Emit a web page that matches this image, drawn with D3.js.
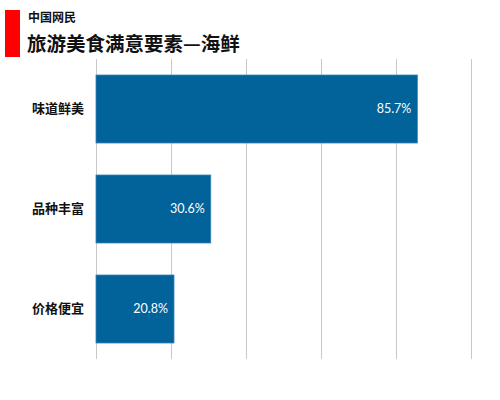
<!DOCTYPE html>
<html>
<head>
<meta charset="utf-8">
<script src="https://cdn.jsdelivr.net/npm/d3@7"></script>
<style>
  body { margin: 0; background: #fff; }
</style>
</head>
<body>
<svg id="chart"></svg>
<script>
// data
var categories = ["味道鲜美", "品种丰富", "价格便宜"]
var values = [85.7, 30.6, 20.8]
var gridTicks = [0, 20, 40, 60, 80, 100]

var screen = { width: 500, height: 400 }
var margin = { left: 96, right: 29, top: 59, bottom: 41 }

var svg = d3.select("#chart")
  .attr("width", screen.width)
  .attr("height", screen.height)

// header: red block + two titles
svg.append("rect")
  .attr("x", 5).attr("y", 10)
  .attr("width", 15).attr("height", 47)
  .attr("fill", "#ff0000")

svg.append("text")
  .attr("x", 28).attr("y", 22)
  .attr("font-family", "Noto Sans CJK SC")
  .attr("font-weight", "bold")
  .attr("font-size", "12px")
  .attr("fill", "#111")
  .text("中国网民")

svg.append("text")
  .attr("x", 27).attr("y", 51)
  .attr("font-family", "Noto Sans CJK SC")
  .attr("font-weight", "bold")
  .attr("font-size", "19.5px")
  .attr("fill", "#111")
  .text("旅游美食满意要素—海鲜")

var xScale = d3.scaleLinear()
  .domain([0, 100])
  .range([margin.left, screen.width - margin.right])

var yScale = d3.scaleBand()
  .domain(categories)
  .range([margin.top, screen.height - margin.bottom])
  .paddingInner(0.32)
  .paddingOuter(0.16)

// vertical gridlines
svg.selectAll("line.grid")
  .data(gridTicks)
  .enter()
  .append("line")
  .attr("class", "grid")
  .attr("x1", function(d){ return Math.round(xScale(d)) + 0.5 })
  .attr("x2", function(d){ return Math.round(xScale(d)) + 0.5 })
  .attr("y1", margin.top)
  .attr("y2", screen.height - margin.bottom)
  .attr("stroke", "#c8c8c8")
  .attr("stroke-width", 1)

var rows = categories.map(function(c, i){ return { cat: c, val: values[i] } })

svg.selectAll("rect.bar")
  .data(rows)
  .enter()
  .append("rect")
  .attr("class", "bar")
  .attr("x", xScale(0))
  .attr("y", function(d){ return yScale(d.cat) })
  .attr("width", function(d){ return xScale(d.val) - xScale(0) })
  .attr("height", yScale.bandwidth())
  .attr("fill", "#02629a")
  .attr("stroke", "#3a86b8")
  .attr("stroke-width", 0.8)

// value labels inside bar ends
svg.selectAll("text.val")
  .data(rows)
  .enter()
  .append("text")
  .attr("class", "val")
  .attr("x", function(d){ return xScale(d.val) - 6 })
  .attr("y", function(d){ return yScale(d.cat) + yScale.bandwidth() / 2 })
  .attr("dy", "0.35em")
  .attr("text-anchor", "end")
  .attr("font-family", "Lato, 'Open Sans', sans-serif")
  .attr("font-size", "12.5px")
  .attr("fill", "#fff")
  .text(function(d){ return d.val.toFixed(1) + "%" })

// category labels on the left
var yAxis = d3.axisLeft(yScale).tickSize(0).tickPadding(12)
var yg = svg.append("g")
  .attr("transform", "translate(" + margin.left + ",0)")
  .call(yAxis)
yg.select(".domain").remove()
yg.selectAll("text")
  .attr("font-family", "Noto Sans CJK SC")
  .attr("font-weight", "bold")
  .attr("font-size", "13px")
  .attr("fill", "#111")
</script>
</body>
</html>
